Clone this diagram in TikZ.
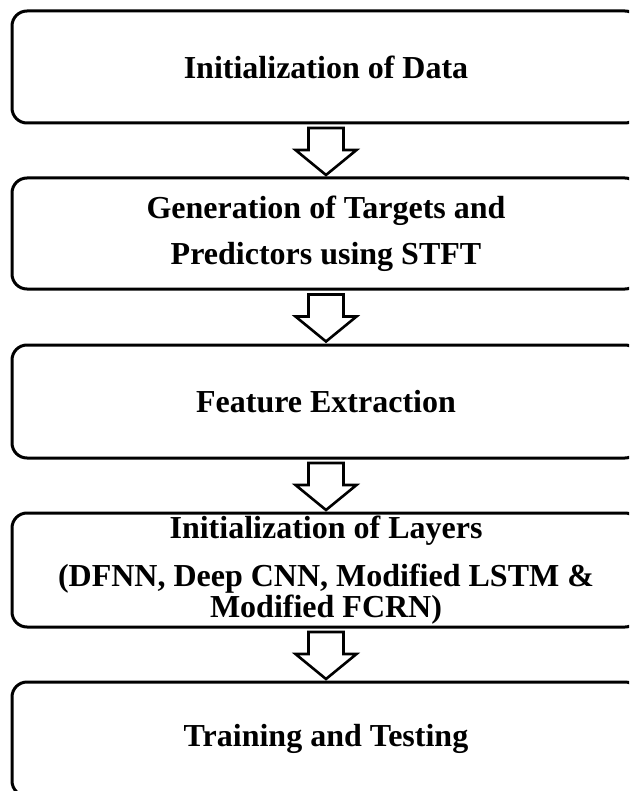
\documentclass[tikz,border=0pt]{standalone}
\usepackage{fontspec}
\setmainfont{Liberation Serif}
\usetikzlibrary{calc}
\tikzset{
  x=1pt, y=1pt,
  stage/.style={draw=black, line width=3pt, rounded corners=15pt, fill=white,
    minimum width=628pt, inner sep=0pt, align=center,
    font=\fontsize{32}{36}\selectfont\bfseries},
  blockarrow/.style={draw=black, line width=2.6pt, fill=white, line join=miter},
  pics/downarrow/.style={code={
    \draw[blockarrow] (-17.5,23.5) -- (17.5,23.5) -- (17.5,1.5) -- (30.5,1.5)
      -- (0,-23.5) -- (-30.5,1.5) -- (-17.5,1.5) -- cycle;
  }}
}
\begin{document}
\begin{tikzpicture}
\useasboundingbox (0,0) rectangle (629,-791);
\clip (0,0) rectangle (629,-791);

\node[stage, minimum height=112pt] (b1) at (326,-67) {Initialization of Data};
\node[stage, minimum height=111pt] (b2) at (326,-233.5)
  {Generation of Targets and\\[10pt]Predictors using STFT};
\node[stage, minimum height=113pt] (b3) at (326,-401.5) {Feature Extraction};
\node[stage, minimum height=114pt] (b4) at (326,-570)
  {Initialization of Layers\\[12pt](DFNN, Deep CNN, Modified LSTM \&\\[-5pt]Modified FCRN)};
\node[stage, minimum height=114pt] (b5) at (326,-739) {Training and Testing};

\pic at ($(b1.south)!0.5!(b2.north)+(0,-1)$) {downarrow};
\pic at ($(b2.south)!0.5!(b3.north)+(0,-1)$) {downarrow};
\pic at ($(b3.south)!0.5!(b4.north)+(0,-1)$) {downarrow};
\pic at ($(b4.south)!0.5!(b5.north)+(0,-1)$) {downarrow};
\end{tikzpicture}
\end{document}
